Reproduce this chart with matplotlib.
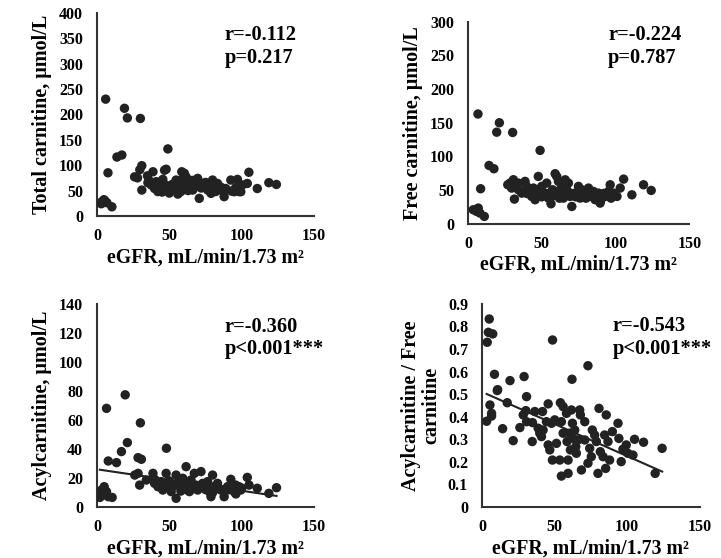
import numpy as np
import matplotlib
matplotlib.use("Agg")
import matplotlib.pyplot as plt

plt.rcParams['font.family'] = ['Liberation Serif', 'DejaVu Serif']
plt.rcParams['font.weight'] = 'bold'

# ---- panel 1: total carnitine ----
tc_x = [6, 19, 21, 30, 13.8, 17.2, 7.6, 49, 3.4, 4.8, 6.9, 10.3, 3, 5.5,
        26, 28, 29.6, 31, 31, 34.9, 38.7, 35.2, 37.5, 39.8, 42.1, 41, 44.4, 45.5,
        46.7, 47.8, 44.4, 46.7, 49, 51.3, 53.6, 54.7, 55.9, 58.1, 58.6, 60.4, 61.6,
        62.7, 63.9, 65, 66.2, 67.3, 69.6, 70.7, 71.9, 74.2, 76.5, 78.8, 79.9, 81,
        83.3, 85.6, 87.9, 89, 92.5, 94.8, 97.1, 99.4, 100.5, 103.9, 105, 110.8, 118.8, 124,
        43, 48, 52, 56, 57, 59, 60, 62, 64, 66, 68, 72, 75, 77, 80, 82, 84, 86, 88,
        93, 96, 98, 36, 40, 45, 50, 53, 55, 58, 61, 63, 70]
tc_y = [230, 212, 193, 192, 116, 120, 85, 132, 28, 32, 26, 18, 24, 30,
        77, 75, 91, 99, 51, 79, 87, 65.5, 61, 54, 48, 67.5, 64, 72,
        90, 92, 54, 51, 54, 51, 57.6, 70.7, 43, 51, 87, 84, 77,
        61, 54, 67, 51, 57.6, 74, 34.6, 64, 61, 51, 44.5, 70.7, 57.6,
        64, 51, 38, 54, 70.7, 47.7, 72, 47.7, 61, 64, 86, 54, 65.5, 62,
        58, 60, 62, 65, 55, 72, 60, 66, 58, 70, 62, 55, 66, 58, 55, 48, 60, 56, 50,
        49, 56, 48, 70, 60, 47, 45, 52, 60, 48, 55, 50, 60]

# ---- panel 2: free carnitine ----
fc_x = [6.8, 21.3, 19.5, 30.3, 48.9, 14.3, 17.6, 8.6, 3.6, 5.9, 8.1, 11.1, 7,
        27, 29.6, 28.5, 30.8, 34.2, 31.5,
        34.2, 36.4, 38.7, 39.8, 41, 43.2, 45.5, 44.4, 46.6, 47.7, 48.9, 50, 52.3, 53.4,
        54.5, 56.3, 57.3, 59.1, 60.2, 61.3, 62.5, 63.6, 64.7, 65.9, 67, 68.1, 69.2,
        70.4, 72.6, 74.9, 76, 77.2, 79.4, 81.7, 82.8, 85.1, 86.2, 88.5, 89.6, 93, 95.3,
        96.4, 98.7, 101, 103.2, 105.5, 111.1, 119, 124.2,
        40, 43, 47, 50, 55, 58, 60, 62, 65, 66, 70, 73, 78, 80, 83, 85, 87, 90, 92, 97]
fc_y = [163, 150, 136, 135.6, 109, 86.6, 81.7, 52, 20.8, 18.3, 15.9, 10.9, 23.3,
        58, 53, 60.4, 65.4, 60.4, 36.6,
        50.5, 45.5, 62.9, 55.5, 48, 40.6, 35.7, 53, 48, 70.3, 43, 55.5, 45.5, 60.4,
        38.1, 29.7, 50.5, 74.3, 70.3, 62.9, 45.5, 55.5, 38.1, 65.3, 50.5, 60.4, 40.6,
        25.7, 45.5, 55.5, 38.1, 50.5, 48, 53, 40.6, 48, 35.7, 45.5, 30.7, 40.6, 48,
        57.9, 45.5, 40.6, 53, 66.3, 43, 57.9, 49.5,
        45, 50, 42, 40, 45, 42, 48, 38, 42, 58, 45, 40, 42, 38, 45, 40, 38, 35, 45, 38]

# ---- panel 3: acylcarnitine ----
ac_x = [6.6, 19.5, 30, 48, 7.8, 13.5, 16.9, 21, 28.4, 30.7,
        3.2, 5, 4.3, 6.6, 7.8, 10.5, 2,
        26.1, 29.5, 28.4, 34.1, 38.7, 39.8, 42.1, 44.4, 45.5, 47.8, 49, 51.3, 53.6,
        54.7, 54.7, 57, 58.1, 59.3, 61.6, 62.7, 63.9, 65, 67.3, 68.4, 69.6, 71.9, 73,
        74.2, 76.5, 77.6, 78.8, 79.9, 81, 83.3, 85.6, 87.9, 90.2, 92.5, 94.8, 95.9,
        98.2, 99.4, 103.9, 105.1, 110.8, 118.8, 124.1,
        40, 43, 46, 50, 52, 56, 58, 60, 62, 64, 66, 70, 75, 80, 82, 86, 88, 92, 96, 100]
ac_y = [68, 77.3, 58, 40.5, 31.7, 30.6, 38.2, 44.4, 34, 32.9,
        11.7, 14, 8.3, 10.6, 7.1, 6.6, 6.6,
        22, 15.1, 23.2, 18.6, 23.2, 16.3, 14, 17.5, 11.7, 23.2, 15.1, 10.6, 15.1,
        6, 22, 17.5, 12.9, 19.8, 27.8, 14, 10.6, 18.6, 23.2, 15.1, 11.7, 24.4, 16.3,
        14, 17.5, 10.6, 7.1, 22, 14, 16.3, 11.7, 7.1, 14, 19.1, 10.6, 15.1,
        14, 11.7, 20.4, 15.1, 12.9, 9.4, 13.3,
        19, 16, 13, 18, 14, 17, 11, 16, 12, 15, 13, 14, 12, 10, 13, 12, 10, 12, 9, 13]
ac_fit = [26.0, -0.148]   # intercept, slope

# ---- panel 4: acylcarnitine / free carnitine ----
ratio_x = [5, 4.4, 7.4, 3.6, 48.6, 73, 8.6, 19.3, 29, 62, 10.8,
           10.5, 30.7, 5.5, 6.6, 6.6, 3.2, 14.2, 21.5, 17.4, 26.1, 28.4, 30.2, 30.7,
           34.8, 36.4, 34.6, 38.7, 39.8, 41, 42.1, 41.7, 44.4, 45.6, 45.6, 46.7, 47.9,
           48.5, 50.1, 51.3, 53.6, 54, 54.7, 55.9, 55.9, 54.7, 58.2, 58.6, 59.3, 59.3,
           60.4, 60.9, 61.6, 62.3, 62.7, 63.9, 64.6, 65, 66.2, 67.3, 67.8, 68.5, 70.8,
           70.8, 74.2, 75.3, 76, 73, 77.6, 78.8, 79.9, 80.6, 81.5, 83.4, 84.5, 85.2,
           85.6, 86.8, 87.9, 89.8, 93.7, 94.3, 95.9, 97.1, 99.4, 100.5, 104, 105.1,
           111.3, 119.3, 124.1]
ratio_y = [0.833, 0.774, 0.767, 0.73, 0.74, 0.626, 0.588, 0.56, 0.578, 0.566, 0.52,
           0.516, 0.489, 0.452, 0.415, 0.403, 0.38, 0.347, 0.294, 0.462, 0.352, 0.408,
           0.427, 0.378, 0.374, 0.423, 0.29, 0.349, 0.327, 0.312, 0.341, 0.423, 0.378,
           0.457, 0.275, 0.253, 0.371, 0.208, 0.386, 0.282, 0.208, 0.462, 0.378, 0.445,
           0.327, 0.137, 0.415, 0.29, 0.208, 0.149, 0.327, 0.253, 0.43, 0.371, 0.304,
           0.341, 0.267, 0.238, 0.297, 0.43, 0.408, 0.164, 0.378, 0.297, 0.26, 0.223,
           0.341, 0.194, 0.319, 0.29, 0.149, 0.437, 0.245, 0.223, 0.319, 0.171, 0.408,
           0.29, 0.208, 0.334, 0.371, 0.304, 0.201, 0.256, 0.275, 0.238, 0.23, 0.3,
           0.287, 0.149, 0.26]
ratio_fit = [0.510, -0.002845]

xlabel = 'eGFR, mL/min/1.73 m²'
dot = '#222222'

fig = plt.figure(figsize=(7.21, 5.58), dpi=100)

panels = [
    # rect, x, y, fit, ylim, yticks, ylabel, r, p, text pos
    ([0.1345, 0.613, 0.301, 0.364], tc_x, tc_y, None, 400, np.arange(0, 401, 50),
     'Total carnitine, μmol/L', 'r=-0.112', 'p=0.217', (0.587, 0.89, 0.78)),
    ([0.649, 0.599, 0.307, 0.362], fc_x, fc_y, None, 300, np.arange(0, 301, 50),
     'Free carnitine, μmol/L', 'r=-0.224', 'p=0.787', (0.633, 0.935, 0.82)),
    ([0.1345, 0.0914, 0.301, 0.364], ac_x, ac_y, ac_fit, 140, np.arange(0, 141, 20),
     'Acylcarnitine, μmol/L', 'r=-0.360', 'p<0.001***', (0.587, 0.887, 0.778)),
    ([0.6685, 0.0914, 0.302, 0.364], ratio_x, ratio_y, ratio_fit, 0.9, np.round(np.arange(0, 0.91, 0.1), 1),
     'Acylcarnitine / Free\ncarnitine', 'r=-0.543', 'p<0.001***', (0.60, 0.89, 0.78)),
]

for rect, xs, ys, fit, ymax, yt, ylab, rtxt, ptxt, tpos in panels:
    ax = fig.add_axes(rect)
    ax.scatter(xs, ys, s=46, color=dot, edgecolors='none', zorder=3)
    if fit is not None:
        xx = np.array([min(xs), max(xs)])
        ax.plot(xx, fit[0] + fit[1] * xx, color=dot, lw=1.5, zorder=2)
    ax.set_xlim(0, 150)
    ax.set_ylim(0, ymax)
    ax.set_xticks([0, 50, 100, 150])
    ax.set_yticks(yt)
    if ymax < 1:
        ax.set_yticklabels(['0'] + ['%.1f' % v for v in yt[1:]])
    ax.tick_params(axis='y', length=0, labelsize=11.5, pad=10)
    ax.tick_params(axis='x', length=0, labelsize=11.5, pad=9)
    for lab in ax.get_xticklabels() + ax.get_yticklabels():
        lab.set_fontweight('bold')
    ax.spines['top'].set_visible(False)
    ax.spines['right'].set_visible(False)
    ax.spines['left'].set_linewidth(1.5)
    ax.spines['bottom'].set_linewidth(1.5)
    ax.spines['left'].set_color('#333333')
    ax.spines['bottom'].set_color('#333333')
    ax.set_xlabel(xlabel, fontsize=14.3, fontweight='bold', labelpad=2)
    ax.set_ylabel(ylab, fontsize=14.5, fontweight='bold', labelpad=5, linespacing=1.0)
    ax.text(tpos[0], tpos[1], rtxt, transform=ax.transAxes, fontsize=14.7,
            fontweight='bold', va='center', ha='left')
    ax.text(tpos[0], tpos[2], ptxt, transform=ax.transAxes, fontsize=14.7,
            fontweight='bold', va='center', ha='left')

fig.savefig('out.png', dpi=100)
